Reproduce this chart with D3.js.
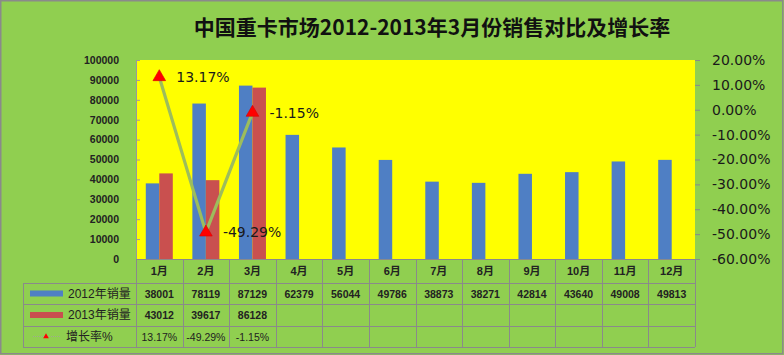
<!DOCTYPE html>
<html>
<head>
<meta charset="utf-8">
<script src="https://cdn.jsdelivr.net/npm/d3@7"></script>
<style>
  html, body { margin: 0; padding: 0; background: #fff; }
  svg { display: block; }
</style>
</head>
<body>
<svg id="chart" width="784" height="355"></svg>
<script>
// ---- data ----
const months = ['1月','2月','3月','4月','5月','6月','7月','8月','9月','10月','11月','12月'];
const sales2012 = [38001,78119,87129,62379,56044,49786,38873,38271,42814,43640,49008,49813];
const sales2013 = [43012,39617,86128];
const growth = [13.17,-49.29,-1.15];
const growthLabels = ['13.17%','-49.29%','-1.15%'];
const seriesNames = ['2012年销量','2013年销量','增长率%'];
const leftTicks = [0,10000,20000,30000,40000,50000,60000,70000,80000,90000,100000];
const rightTicks = [20,10,0,-10,-20,-30,-40,-50,-60];
const title = '中国重卡市场2012-2013年3月份销售对比及增长率';

// ---- styles ----
const W = 784, H = 355;
const plot = {l: 136, r: 695, t: 60, b: 259};
const tableRows = [283, 304, 326, 347];
const tableLeft = 23;
const cBlue = '#4f7fc4', cRed = '#c9504f', cLine = '#9dbd5c', cGreen = '#90cf50';
const cjk = '"Liberation Sans","Noto Sans CJK SC",sans-serif';

const svg = d3.select('#chart');

// background
svg.append('rect').attr('x',0).attr('y',0).attr('width',W).attr('height',H).attr('fill',cGreen);
svg.append('rect').attr('x',0.75).attr('y',0.75).attr('width',W-2).attr('height',H-2)
  .attr('fill','none').attr('stroke','#8a8a8a').attr('stroke-width',1.5);

// title
svg.append('text').attr('x',432).attr('y',35).attr('text-anchor','middle')
  .attr('font-family','"Noto Sans CJK SC",sans-serif').attr('font-weight','bold')
  .attr('font-size',21).attr('fill','#111').text(title);

// plot area
svg.append('rect').attr('x',plot.l).attr('y',plot.t).attr('width',plot.r-plot.l).attr('height',plot.b-plot.t)
  .attr('fill','#ffff00');

// scales
const x = d3.scaleBand().domain(months).range([plot.l, plot.r]).padding(0);
const bw = x.bandwidth();
const xs = d3.scaleBand().domain(['2012','2013']).range([0,bw]).paddingInner(0).paddingOuter(0.725);
const y = d3.scaleLinear().domain([0,100000]).range([plot.b, plot.t]);
const y2 = d3.scaleLinear().domain([-60,20]).range([plot.b, plot.t]);

// bars
svg.append('g').selectAll('rect').data(sales2012).join('rect')
  .attr('x',(d,i)=>x(months[i])+xs('2012')).attr('y',d=>y(d))
  .attr('width',xs.bandwidth()).attr('height',d=>y(0)-y(d)).attr('fill',cBlue);
svg.append('g').selectAll('rect').data(sales2013).join('rect')
  .attr('x',(d,i)=>x(months[i])+xs('2013')).attr('y',d=>y(d))
  .attr('width',xs.bandwidth()).attr('height',d=>y(0)-y(d)).attr('fill',cRed);

// left axis
const gl = svg.append('g').attr('transform',`translate(${plot.l},0)`)
  .call(d3.axisLeft(y).tickValues(leftTicks).tickFormat(d3.format('d')).tickSize(-4).tickPadding(17));
gl.select('.domain').attr('stroke','#9a9a9a');
gl.selectAll('.tick line').attr('stroke','#9a9a9a');
gl.selectAll('text').attr('font-family','"Liberation Sans",Arial,sans-serif').attr('font-weight','bold')
  .attr('font-size',10.5).attr('fill','#222');

// right axis
const gr = svg.append('g').attr('transform',`translate(${plot.r},0)`)
  .call(d3.axisRight(y2).tickValues(rightTicks).tickFormat(d=>d.toFixed(2)+'%').tickSize(5).tickPadding(12));
gr.select('.domain').attr('stroke','none');
gr.selectAll('.tick line').attr('stroke','#8a8a8a');
gr.selectAll('text').attr('font-family','"DejaVu Sans",sans-serif')
  .attr('font-size',14).attr('fill','#1a1a1a');

// bottom axis (month header of data table)
const gb = svg.append('g').attr('transform',`translate(0,${plot.b})`)
  .call(d3.axisBottom(x).tickSize(0).tickPadding(8));
gb.select('.domain').attr('stroke','#8a8a8a');
gb.selectAll('text').attr('font-family',cjk).attr('font-weight','bold').attr('font-size',11).attr('fill','#222');

// data table grid
const grid = svg.append('g').attr('stroke','#8a8a8a').attr('stroke-width',1);
tableRows.forEach(yy => grid.append('line').attr('x1',tableLeft).attr('x2',plot.r).attr('y1',yy+0.5).attr('y2',yy+0.5));
const bounds = months.map(m=>x(m)).concat([plot.r]);
bounds.forEach(xx => grid.append('line').attr('x1',Math.round(xx)+0.5).attr('x2',Math.round(xx)+0.5)
  .attr('y1',plot.b).attr('y2',tableRows[3]));
grid.append('line').attr('x1',tableLeft+0.5).attr('x2',tableLeft+0.5).attr('y1',tableRows[0]).attr('y2',tableRows[3]);

const rowMid = i => (tableRows[i]+tableRows[i+1])/2;
const tbl = svg.append('g').attr('font-family','"Liberation Sans",Arial,sans-serif').attr('font-size',10.5)
  .attr('fill','#222').attr('text-anchor','middle').attr('dominant-baseline','central');
tbl.selectAll('.r0').data(sales2012).join('text').attr('class','r0')
  .attr('x',(d,i)=>x(months[i])+bw/2).attr('y',rowMid(0)).attr('font-weight','bold').text(d=>d);
tbl.selectAll('.r1').data(sales2013).join('text').attr('class','r1')
  .attr('x',(d,i)=>x(months[i])+bw/2).attr('y',rowMid(1)).attr('font-weight','bold').text(d=>d);
tbl.selectAll('.r2').data(growthLabels).join('text').attr('class','r2')
  .attr('x',(d,i)=>x(months[i])+bw/2).attr('y',rowMid(2)).text(d=>d);

// legend keys in table
const lg = svg.append('g');
lg.append('rect').attr('x',30).attr('y',rowMid(0)-3).attr('width',33).attr('height',6).attr('fill',cBlue);
lg.append('rect').attr('x',30).attr('y',rowMid(1)-3).attr('width',33).attr('height',6).attr('fill',cRed);
lg.append('line').attr('x1',33).attr('x2',60).attr('y1',rowMid(2)).attr('y2',rowMid(2))
  .attr('stroke','#a0a890').attr('stroke-width',1).attr('stroke-dasharray','1,1');
lg.append('path').attr('d',d3.symbol(d3.symbolTriangle, 14)()).attr('transform',`translate(46,${rowMid(2)})`)
  .attr('fill','#ff0000');
lg.selectAll('.lt').data(seriesNames).join('text').attr('class','lt')
  .attr('x',(d,i)=> i<2 ? 68 : 66).attr('y',(d,i)=>rowMid(i)).attr('dominant-baseline','central')
  .attr('font-family',cjk).attr('font-size',12).attr('fill','#222').text(d=>d);

// growth line
const line = d3.line().x((d,i)=>x(months[i])+bw/2).y(d=>y2(d));
svg.append('path').datum(growth).attr('d',line).attr('fill','none')
  .attr('stroke',cLine).attr('stroke-width',3.2).attr('stroke-linejoin','round');
svg.append('g').selectAll('path').data(growth).join('path')
  .attr('d',d3.symbol(d3.symbolTriangle, 70)())
  .attr('transform',(d,i)=>`translate(${x(months[i])+bw/2},${y2(d)})`)
  .attr('fill','#ff0000').attr('stroke','#d80000').attr('stroke-width',0.6);
svg.append('g').selectAll('text').data(growth).join('text')
  .attr('x',(d,i)=>x(months[i])+bw/2+17).attr('y',d=>y2(d)).attr('dominant-baseline','central')
  .attr('font-family','"DejaVu Sans",sans-serif').attr('font-size',14).attr('fill','#1a1a1a')
  .text((d,i)=>growthLabels[i]);
</script>
</body>
</html>
